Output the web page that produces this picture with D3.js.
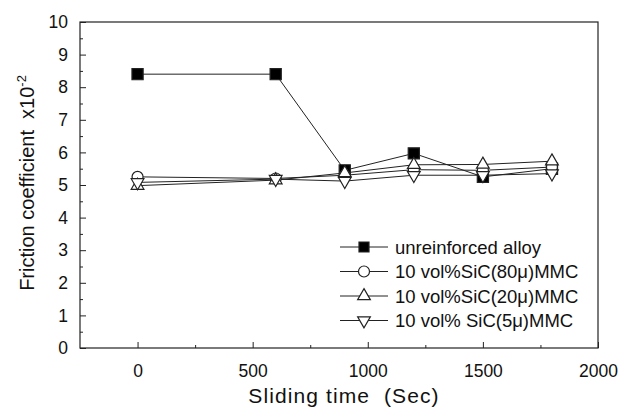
<!DOCTYPE html>
<html>
<head>
<meta charset="utf-8">
<script src="https://cdn.jsdelivr.net/npm/d3@7"></script>
<style>
  body { margin: 0; background: #fff; }
  svg { font-family: "Liberation Sans", Arial, sans-serif; }
</style>
</head>
<body>
<div id="chart"></div>
<script>
// sliding time (sec)
const times = [0, 600, 900, 1200, 1500, 1800];
// friction coefficient x10^-2
const unreinforced = [8.4, 8.4, 5.45, 5.97, 5.25, 5.5];
const sic80 = [5.25, 5.2, 5.3, 5.47, 5.45, 5.55];
const sic20 = [4.98, 5.15, 5.37, 5.62, 5.63, 5.73];
const sic5 = [5.08, 5.18, 5.12, 5.3, 5.3, 5.35];
const seriesNames = ["unreinforced alloy", "10 vol%SiC(80\u03bc)MMC", "10 vol%SiC(20\u03bc)MMC", "10 vol% SiC(5\u03bc)MMC"];
const xTicks = [0, 500, 1000, 1500, 2000];
const yTicks = [0, 1, 2, 3, 4, 5, 6, 7, 8, 9, 10];

var width = 620, height = 416;
var margin = {left: 80, right: 22, top: 22, bottom: 68};

var svg = d3.select("#chart").append("svg")
    .attr("width", width)
    .attr("height", height);

var x = d3.scaleLinear().domain([-250, 2000]).range([margin.left, width - margin.right]);
var y = d3.scaleLinear().domain([0, 10]).range([height - margin.bottom, margin.top]);

var ink = "#222";

// frame
svg.append("rect")
    .attr("x", x.range()[0]).attr("y", y.range()[1])
    .attr("width", x.range()[1] - x.range()[0])
    .attr("height", y.range()[0] - y.range()[1])
    .attr("fill", "none").attr("stroke", ink).attr("stroke-width", 1.2);

// axes with inward ticks
var xAxis = svg.append("g")
    .attr("transform", "translate(0," + y(0) + ")")
    .call(d3.axisBottom(x).tickValues(xTicks).tickSize(-6).tickPadding(17).tickFormat(d3.format("d")));
var xMinor = svg.append("g")
    .attr("transform", "translate(0," + y(0) + ")")
    .call(d3.axisBottom(x).tickValues([250, 750, 1250, 1750]).tickSize(-3).tickFormat(""));
var yAxis = svg.append("g")
    .attr("transform", "translate(" + x(-250) + ",0)")
    .call(d3.axisLeft(y).tickValues(yTicks).tickSize(-6).tickPadding(12).tickFormat(d3.format("d")));
var yMinor = svg.append("g")
    .attr("transform", "translate(" + x(-250) + ",0)")
    .call(d3.axisLeft(y).tickValues(d3.range(0.5, 10, 1)).tickSize(-3).tickFormat(""));

[xAxis, xMinor, yAxis, yMinor].forEach(function (g) {
    g.select(".domain").remove();
    g.selectAll("line").attr("stroke", ink);
    g.selectAll("text").attr("fill", "#111").style("font-size", "17.5px");
});

// axis titles
svg.append("text")
    .attr("x", 344)
    .attr("y", 403)
    .attr("text-anchor", "middle")
    .style("font-size", "21px")
    .style("letter-spacing", "1.1px")
    .style("white-space", "pre")
    .attr("fill", "#111")
    .text("Sliding time  (Sec)");

var yl = svg.append("text")
    .attr("transform", "translate(34," + ((y.range()[0] + y.range()[1]) / 2 - 2) + ") rotate(-90)")
    .attr("text-anchor", "middle")
    .style("font-size", "20px")
    .style("white-space", "pre")
    .attr("fill", "#111");
yl.append("tspan").text("Friction coefficient  x10");
yl.append("tspan").attr("dy", -8).style("font-size", "13px").text("-2");

// marker shapes
var sq = d3.symbol().type(d3.symbolSquare).size(125);
var circ = d3.symbol().type(d3.symbolCircle).size(95);
var tri = d3.symbol().type(d3.symbolTriangle).size(70);
var sqSmall = d3.symbol().type(d3.symbolSquare).size(100);

var series = [
    {vals: unreinforced, sym: sq, leg: sqSmall, fill: "#000", rot: 0},
    {vals: sic80, sym: circ, leg: circ, fill: "#fff", rot: 0},
    {vals: sic20, sym: tri, leg: tri, fill: "#fff", rot: 0},
    {vals: sic5, sym: tri, leg: tri, fill: "#fff", rot: 180}
];

var line = d3.line().x(function (d) { return x(d[0]); }).y(function (d) { return y(d[1]); });

series.forEach(function (s) {
    var pts = times.map(function (t, i) { return [t, s.vals[i]]; });
    svg.append("path")
        .attr("d", line(pts))
        .attr("fill", "none")
        .attr("stroke", ink)
        .attr("stroke-width", 1);
});

series.forEach(function (s) {
    svg.selectAll(null)
        .data(times.map(function (t, i) { return [t, s.vals[i]]; }))
        .enter().append("path")
        .attr("d", s.sym)
        .attr("transform", function (d) {
            return "translate(" + x(d[0]) + "," + y(d[1]) + ") rotate(" + s.rot + ")";
        })
        .attr("fill", s.fill)
        .attr("stroke", ink)
        .attr("stroke-width", 1.2);
});

// legend
var legend = svg.append("g");
series.forEach(function (s, i) {
    var ly = 247 + i * 24.5;
    legend.append("line")
        .attr("x1", 340).attr("x2", 388)
        .attr("y1", ly).attr("y2", ly)
        .attr("stroke", ink).attr("stroke-width", 1);
    legend.append("path")
        .attr("d", s.leg)
        .attr("transform", "translate(364," + ly + ") rotate(" + s.rot + ")")
        .attr("fill", s.fill)
        .attr("stroke", ink)
        .attr("stroke-width", 1.2);
    legend.append("text")
        .attr("x", 395).attr("y", ly + 6.5)
        .style("font-size", "18.5px")
        .attr("fill", "#111")
        .text(seriesNames[i]);
});
</script>
</body>
</html>
